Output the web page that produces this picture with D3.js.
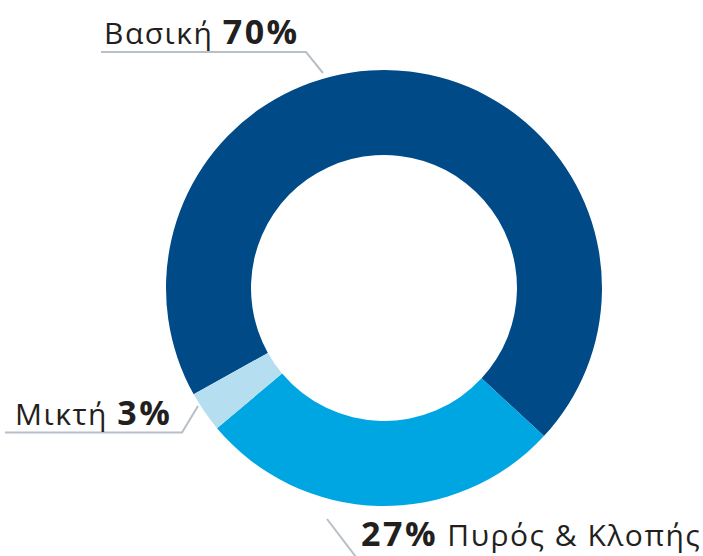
<!DOCTYPE html>
<meta charset="utf-8">
<script src="https://d3js.org/d3.v7.min.js"></script>
<style>
  body { margin: 0; background: #fff; }
  svg text { font-family: "Open Sans", "Noto Sans", sans-serif; fill: #231f20; }
  .lbl-name { font-weight: 400; font-size: 30px; letter-spacing: 1.5px; }
  .lbl-pct { font-weight: 700; font-size: 34px; letter-spacing: 2.5px; }
  .leader { fill: none; stroke: #b7c0c8; stroke-width: 2; }
</style>
<body>
<div id="chart"></div>
<script>
// data
var categories = ["Βασική", "Πυρός & Κλοπής", "Μικτή"];
var shares = [70, 27, 3];
var colors = ["#004b87", "#00a6e2", "#b5def0"];

var width = 703, height = 556;
var cx = 384, cy = 288, outerR = 218, innerR = 133;

var svg = d3.select("#chart")
  .append("svg")
    .attr("width", width)
    .attr("height", height);

var g = svg.append("g")
    .attr("transform", "translate(" + cx + "," + cy + ")");

var pie = d3.pie()
  .sort(null)
  .value(function(d) { return d; })
  .startAngle(-119.2 * Math.PI / 180)
  .endAngle(240.8 * Math.PI / 180);

var arc = d3.arc()
  .innerRadius(innerR)
  .outerRadius(outerR);

g.selectAll("path")
  .data(pie(shares))
  .enter()
  .append("path")
    .attr("d", arc)
    .style("fill", function(d, i) { return colors[i]; });

// labels + leader lines (layout only)
var labelLayout = [
  { x: 104, y: 44, pctFirst: false, line: [[101, 52], [306, 52], [323, 73]] },
  { x: 361, y: 546, pctFirst: true, line: [[327, 519], [356, 557]] },
  { x: 15, y: 425, pctFirst: false, line: [[5, 432.5], [182, 432.5], [198, 406]] }
];

var lineGen = d3.line();

labelLayout.forEach(function(p, i) {
  svg.append("path")
    .attr("class", "leader")
    .attr("d", lineGen(p.line));

  var t = svg.append("text")
    .attr("x", p.x)
    .attr("y", p.y);
  if (p.pctFirst) {
    t.append("tspan").attr("class", "lbl-pct").text(shares[i] + "%");
    t.append("tspan").attr("class", "lbl-name").text(" " + categories[i]);
  } else {
    t.append("tspan").attr("class", "lbl-name").text(categories[i] + " ");
    t.append("tspan").attr("class", "lbl-pct").text(shares[i] + "%");
  }
});
</script>
</body>
